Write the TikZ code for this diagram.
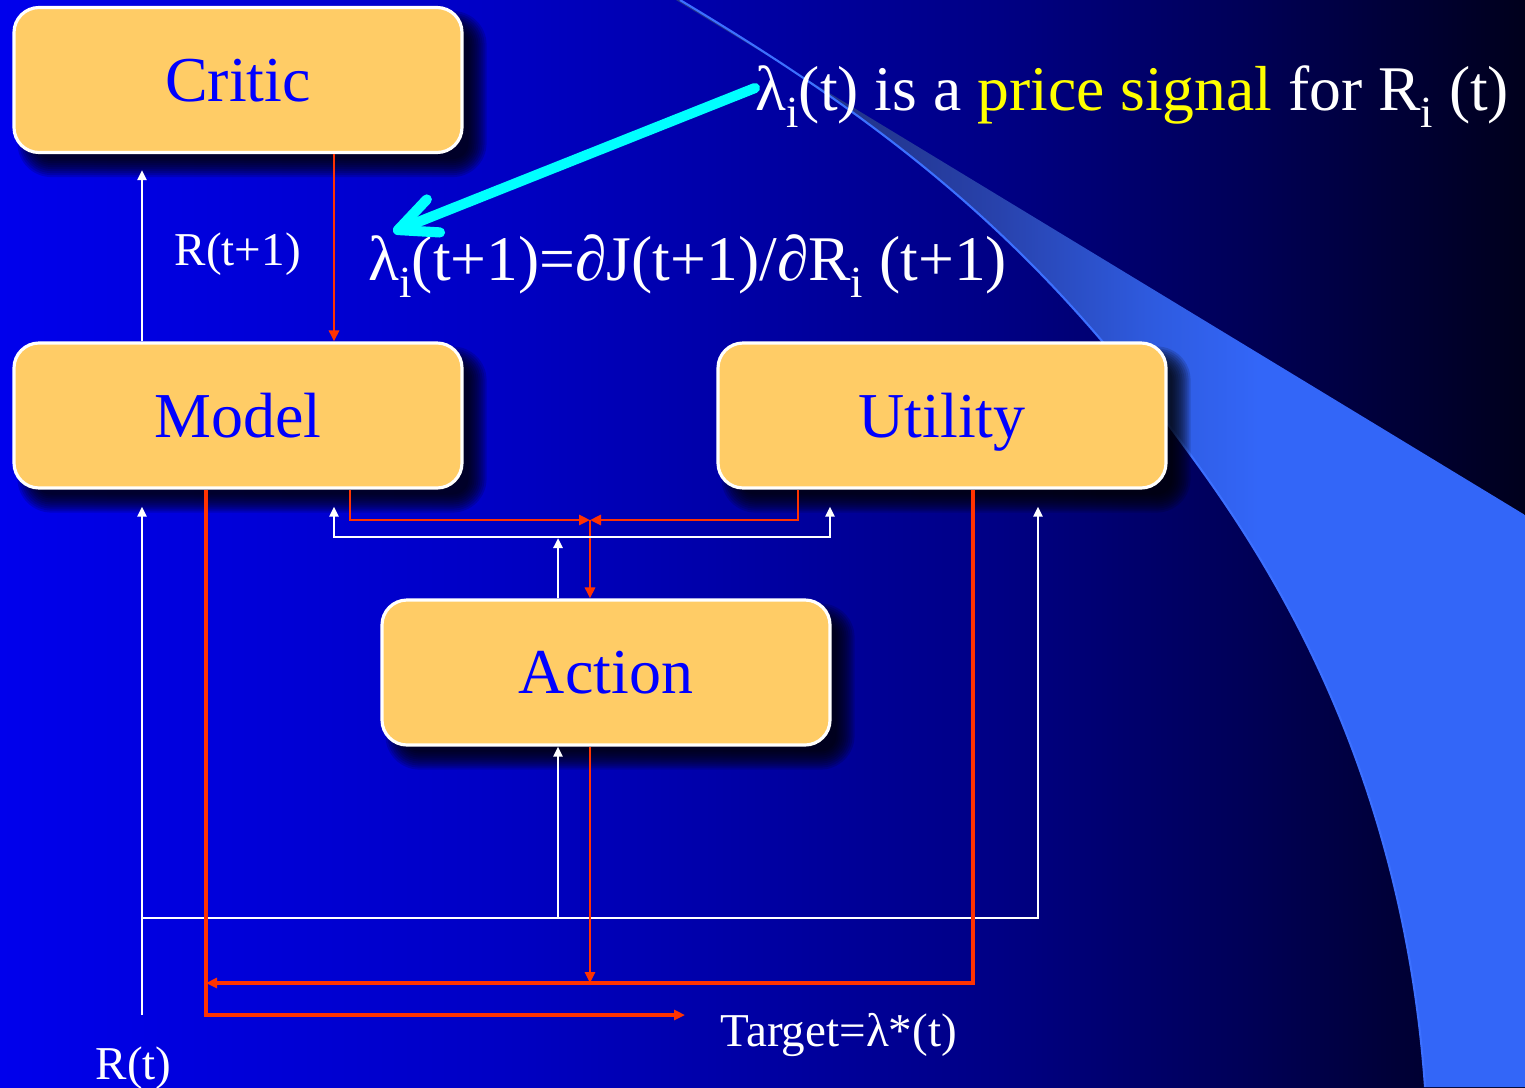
\documentclass[tikz,border=0pt]{standalone}
\usepackage{fontspec}
\setmainfont{Liberation Serif}
\usetikzlibrary{arrows.meta,calc}

\definecolor{boxfill}{RGB}{255,204,102}
\definecolor{boxtext}{RGB}{0,0,255}
\definecolor{wire}{RGB}{255,51,0}
\definecolor{pointer}{RGB}{0,255,255}
\definecolor{hilite}{RGB}{255,255,0}
\definecolor{swoosh}{RGB}{51,102,248}
\definecolor{swooshedge}{RGB}{60,112,255}
\definecolor{bgA}{RGB}{0,0,236}
\definecolor{bgB}{RGB}{0,0,196}
\definecolor{bgC}{RGB}{0,0,132}
\definecolor{bgD}{RGB}{0,0,86}
\definecolor{bgE}{RGB}{0,0,28}
\definecolor{swA}{RGB}{34,52,140}
\definecolor{swB}{RGB}{40,66,172}
\definecolor{swC}{RGB}{46,90,222}

% slide backdrop: bright blue on the left fading to near black on the right
\pgfdeclarehorizontalshading{slidebg}{100bp}{color(0bp)=(bgA); color(25bp)=(bgA); color(41.4bp)=(bgB); color(57.8bp)=(bgC); color(66bp)=(bgD); color(75bp)=(bgE); color(100bp)=(bgE)}
% the light-blue sweep, darker at its pointed end
\pgfdeclarehorizontalshading{swooshfill}{100bp}{color(0bp)=(swA); color(35.5bp)=(swA); color(43.9bp)=(swB); color(52.8bp)=(swC); color(59.3bp)=(swoosh); color(100bp)=(swoosh)}

\pgfdeclarelayer{backdrop}
\pgfdeclarelayer{shade}
\pgfsetlayers{backdrop,shade,main}

\newcommand\boxfont{\fontsize{18.2pt}{22pt}\selectfont}
\newcommand\slidefont{\fontsize{18.1pt}{21pt}\selectfont}
\newcommand\smallfont{\fontsize{13.4pt}{16pt}\selectfont}
\newcommand\subidx{\raisebox{-0.27em}{\scalebox{0.7}{i}}}
% left rim of the sweep
\newcommand\sweepcurve{(6.80,10.87) .. controls (8.60,9.79) and (10.17,8.67) .. (11.67,6.64)
  .. controls (12.27,5.82) and (13.99,3.67) .. (14.25,0.00)}

\tikzset{
  block/.style={draw=white, line width=0.9pt, fill=boxfill, rounded corners=0.25cm,
    minimum width=4.48cm, minimum height=1.45cm, inner sep=0pt,
    text=boxtext, font=\boxfont, text depth=0pt},
  lbl/.style={text=white, inner sep=0pt, anchor=base west},
  wl/.style={draw=white, line width=0.7pt, -{Triangle[length=1.0mm,width=0.9mm]}},
  wplain/.style={draw=white, line width=0.7pt},
  rl/.style={draw=wire, line width=0.8pt, -{Triangle[length=1.1mm,width=1.0mm]}},
  pointerline/.style={draw=pointer, line width=2.9pt, line cap=round, line join=round}
}

\begin{document}
\begin{tikzpicture}
\useasboundingbox (0,0) rectangle (15.25,10.87);

% ---- backdrop and sweep ----
\begin{pgfonlayer}{backdrop}
  \shade[shading=slidebg] (0,0) rectangle (15.25,10.87);
  \shade[shading=swooshfill] \sweepcurve -- (15.25,0) -- (15.25,5.72) -- (6.76,10.87) -- cycle;
  \draw[swooshedge, line width=0.6pt] \sweepcurve;
\end{pgfonlayer}

% ---- blocks ----
\node[block] (critic)  at (2.38,10.07) {Critic};
\node[block] (model)   at (2.38,6.715) {Model};
\node[block] (utility) at (9.42,6.715) {Utility};
\node[block] (action)  at (6.06,4.145) {Action};

% soft drop shadows
\begin{pgfonlayer}{shade}
\foreach \b in {critic,model,utility,action}{
  \foreach \k in {0,...,9}{
    \pgfmathsetmacro\grow{0.09-0.02*\k}
    \pgfmathsetmacro\rad{0.25+\grow}
    \pgfmathsetmacro\xl{0.14-\grow}
    \pgfmathsetmacro\yl{-0.14-\grow}
    \pgfmathsetmacro\xh{0.14+\grow}
    \pgfmathsetmacro\yh{-0.14+\grow}
    \fill[black, opacity=0.14, rounded corners=\rad cm]
      ($(\b.south west)+(\xl,\yl)$) rectangle ($(\b.north east)+(\xh,\yh)$);
  }
}
\end{pgfonlayer}

% ---- texts ----
\node[lbl, font=\slidefont] (price) at (7.55,9.77)
  {λ\subidx(t) is a \textcolor{hilite}{price signal} for R\subidx\ (t)};
\node[lbl, font=\slidefont] (formula) at (3.68,8.07)
  {λ\subidx(t+1)=∂J(t+1)/∂R\subidx\ (t+1)};
\node[lbl, font=\smallfont] (rnext) at (1.74,8.22) {R(t+1)};
\node[lbl, font=\smallfont] (target) at (7.20,0.41) {Target=λ*(t)};
\node[lbl, font=\smallfont] (rnow) at (0.95,0.08) {R(t)};

% ---- helper coordinates ----
\coordinate (xA) at (1.42,0);
\coordinate (xB) at (2.06,0);
\coordinate (xC) at (3.34,0);
\coordinate (xD) at (3.50,0);
\coordinate (xE) at (5.58,0);
\coordinate (xF) at (5.90,0);
\coordinate (xG) at (7.98,0);
\coordinate (xH) at (8.30,0);
\coordinate (xI) at (9.73,0);
\coordinate (xJ) at (10.38,0);
\coordinate (junc) at (5.90,5.67);
\coordinate (wbus) at (0,5.50);
\coordinate (wbot) at (0,1.69);
\coordinate (rbot) at (0,1.04);
\coordinate (rin) at (1.42,0.72);
\coordinate (rtarget) at (6.85,0.72);

% ---- upper connectors ----
\draw[wl] (model.north -| xA) -- ($(critic.south -| xA)+(0,-0.16)$);
\draw[rl] (critic.south -| xC) -- (model.north -| xC);

\draw[rl] (model.south -| xD) -- (junc -| xD) -- (junc);
\draw[rl] (utility.south -| xG) -- (junc -| xG) -- (junc);
\draw[rl] (junc) -- (action.north -| junc);

\draw[wplain, {Triangle[length=1.0mm,width=0.9mm]}-{Triangle[length=1.0mm,width=0.9mm]}]
  ($(model.south -| xC)+(0,-0.17)$) -- (wbus -| xC) -- (wbus -| xH) -- ($(utility.south -| xH)+(0,-0.17)$);
\draw[wl] (action.north -| xE) -- ($(wbus -| xE)+(0,-0.01)$);

% ---- lower connectors ----
\draw[wl] (rin) -- ($(model.south -| xA)+(0,-0.17)$);
\draw[wl] (wbot -| xA) -- (wbot -| xJ) -- ($(utility.south -| xJ)+(0,-0.17)$);
\draw[wl] (wbot -| xE) -- (action.south -| xE);

\draw[rl, line width=1pt] (model.south -| xB) -- (rtarget -| xB) -- (rtarget);
\draw[rl, line width=1pt] (utility.south -| xI) -- (rbot -| xI) -- (rbot -| xB);
\draw[rl] (action.south -| xF) -- (rbot -| xF);

% ---- pointer from the price remark to the costate formula ----
\coordinate (ptail) at ($(price.base west)+(0,0.22)$);
\coordinate (ptip) at ($(formula.base west)+(0.30,0.50)$);
\draw[pointerline] (ptail) -- (ptip);
\draw[pointerline] ($(ptip)!0.42cm!25:(ptail)$) -- (ptip) -- ($(ptip)!0.42cm!-25:(ptail)$);
\end{tikzpicture}
\end{document}
